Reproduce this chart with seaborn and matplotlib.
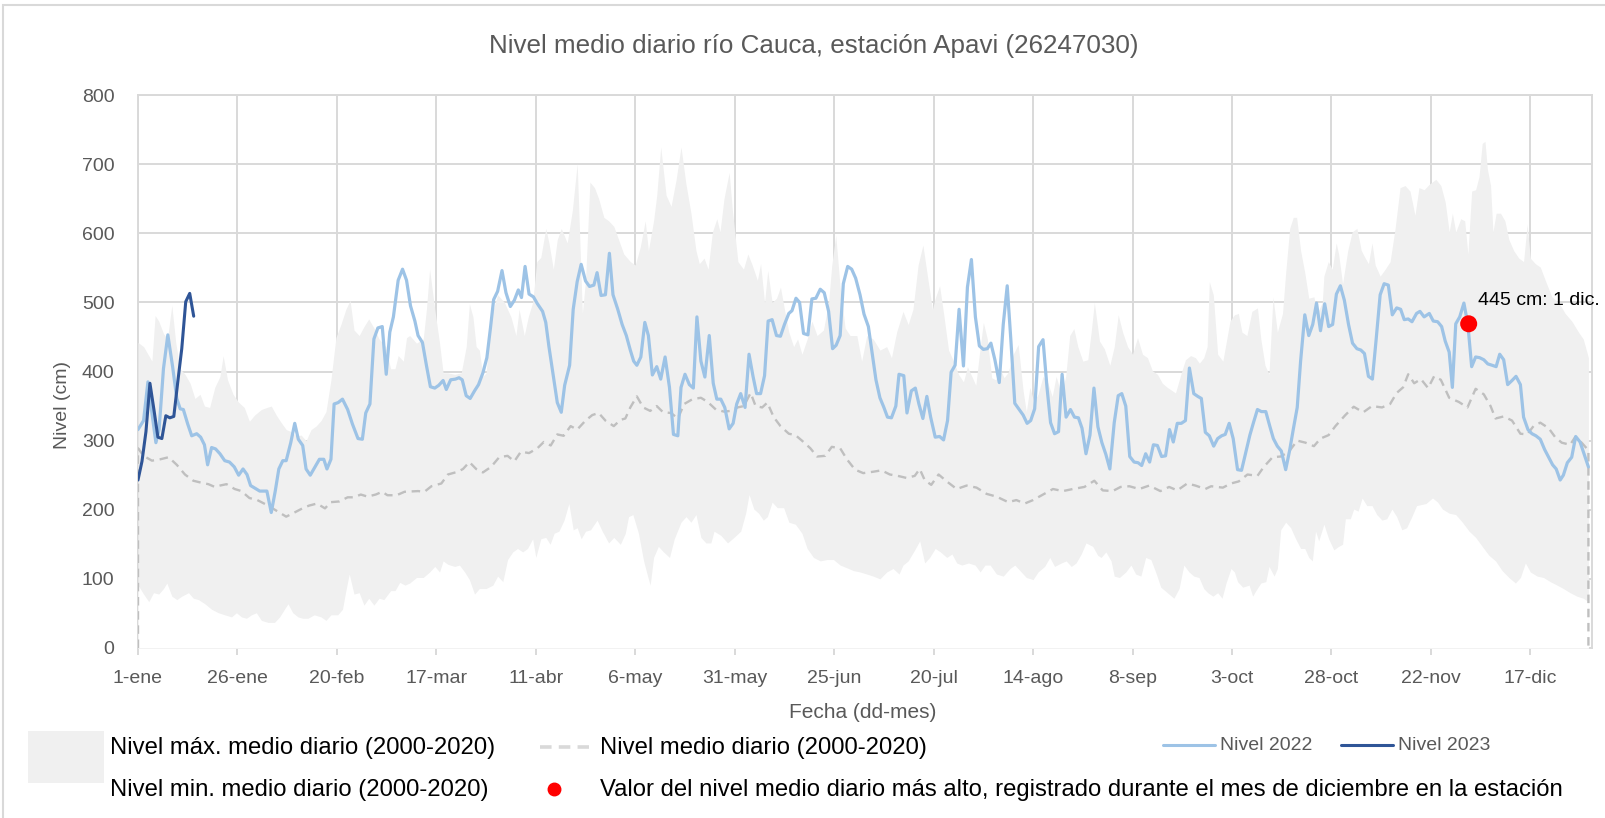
import numpy as np
import pandas as pd
import matplotlib
matplotlib.use("Agg")
import matplotlib.pyplot as plt
from matplotlib.lines import Line2D
from matplotlib.patches import Rectangle
import seaborn as sns

# ---------------- data (day of year, value in cm) ----------------
tick_dias = [0, 25, 50, 75, 100, 125, 150, 175, 200, 225, 250, 275, 300, 325, 350]
tick_labels = ["1-ene", "26-ene", "20-feb", "17-mar", "11-abr", "6-may", "31-may", "25-jun",
               "20-jul", "14-ago", "8-sep", "3-oct", "28-oct", "22-nov", "17-dic"]

nivel_2023 = [(0, 243), (1, 270), (2, 313), (3, 383), (4, 345), (5, 305), (6, 303), (7, 336),
              (8, 333), (9, 335), (10, 385), (11, 433), (12, 501), (13, 513), (14, 480)]

nivel_2022 = [
    (0, 316), (1.4, 329), (2.5, 385), (3.5, 340), (4.5, 297), (5.3, 316), (6.4, 404), (7.5, 453),
    (8.7, 407), (9.75, 361), (10.6, 346), (11.4, 345), (12.5, 324), (13.5, 307), (14.75, 310),
    (15.75, 305), (16.7, 294), (17.5, 265), (18.5, 290), (19.5, 288), (20.6, 281), (21.8, 271),
    (23, 269), (24.2, 262), (25.3, 250), (26.4, 259), (27.4, 251), (28.3, 235), (29.75, 230),
    (30.6, 227), (32.4, 227), (33.5, 196), (34.5, 227), (35.4, 259), (36.4, 271), (37.25, 271),
    (38.4, 297), (39.4, 325), (40.3, 302), (41.4, 293), (42.25, 259), (43.3, 250), (44.5, 262),
    (45.6, 273), (46.7, 273), (47.5, 259), (48.5, 273), (49.3, 353), (50.3, 355), (51.4, 360),
    (52.7, 345), (53.9, 324), (55.3, 303), (56.4, 302), (57.25, 340), (58.3, 353), (59.3, 447),
    (60.3, 463), (61.4, 465), (62.4, 396), (63.3, 457),
    (64.2, 479), (65.4, 532), (66.5, 548), (67.5, 532), (68.5, 495), (69.6, 473), (70.4, 452),
    (71.5, 442), (72.5, 409), (73.5, 378), (74.6, 376), (75.6, 380), (76.7, 387), (77.5, 374),
    (78.6, 388), (79.8, 389), (80.7, 391), (81.5, 388), (82.5, 365), (83.5, 361), (84.6, 372),
    (85.6, 381), (86.7, 398), (87.7, 420), (88.6, 463), (89.4, 504), (90.4, 516), (91.5, 546),
    (92.5, 514), (93.6, 494), (94.6, 503), (95.6, 518), (96.4, 507), (97.3, 552), (98.3, 512),
    (99.4, 508), (100.4, 498), (101.7, 487), (102.5, 471), (103.3, 436), (104.4, 393),
    (105.4, 355), (106.4, 341), (107.25, 380), (108.5, 409), (109.4, 490), (110.4, 530),
    (111.4, 555), (112.5, 531), (113.5, 523), (114.6, 525), (115.4, 543), (116.4, 510),
    (117.5, 511), (118.5, 571), (119.4, 511), (120.6, 490), (121.7, 468), (122.75, 452),
    (123.75, 431), (124.6, 415), (125.4, 409), (126.4, 421), (127.4, 471), (128.3, 452),
    (129.3, 395), (130.4, 407), (131.4, 389),
    (132.5, 421), (133.6, 377), (134.6, 309), (135.7, 307), (136.5, 377), (137.5, 396),
    (138.6, 381), (139.6, 376), (140.5, 479), (141.5, 415), (142.5, 392), (143.6, 452),
    (144.6, 383), (145.5, 360), (146.5, 360), (147.5, 348), (148.6, 317), (149.6, 325),
    (150.5, 353), (151.5, 368), (152.6, 348), (153.6, 425), (154.6, 393), (155.5, 368),
    (156.5, 368), (157.5, 394), (158.4, 473), (159.4, 475), (160.5, 452), (161.5, 451),
    (162.5, 468), (163.6, 484), (164.4, 488), (165.4, 506), (166.3, 500), (167.3, 455),
    (168.4, 453), (169.4, 505), (170.4, 506), (171.5, 519), (172.5, 514), (173.6, 487),
    (174.6, 433), (175.5, 438), (176.5, 452), (177.3, 527), (178.4, 552), (179.4, 548),
    (180.4, 535), (181.5, 511), (182.5, 483), (183.6, 465), (184.6, 425), (185.5, 388),
    (186.5, 362), (187.5, 348), (188.4, 334), (189.4, 333), (190.5, 350), (191.3, 396),
    (192.5, 394), (193.3, 340), (194.4, 372), (195.4, 376), (196.3, 353), (197.3, 332),
    (198.3, 364), (199.25, 334),
    (200.4, 305), (201.5, 306), (202.5, 301), (203.5, 329), (204.4, 399), (205.4, 409),
    (206.4, 490), (207.5, 408), (208.5, 522), (209.5, 562), (210.5, 479), (211.5, 437),
    (212.5, 432), (213.5, 433), (214.4, 441), (215.4, 417), (216.5, 384), (217.5, 468),
    (218.5, 524), (219.4, 447), (220.4, 354), (221.5, 345), (222.5, 337), (223.5, 325),
    (224.4, 329), (225.4, 346), (226.4, 436), (227.5, 446), (228.5, 377), (229.4, 326),
    (230.4, 310), (231.4, 313), (232.3, 396), (233.3, 334), (234.4, 345), (235.4, 334),
    (236.4, 333), (237.3, 318), (238.3, 281), (239.3, 308), (240.3, 376), (241.3, 320),
    (242.3, 297), (243.3, 280), (244.3, 259), (245.4, 326), (246.4, 365), (247.3, 368),
    (248.3, 350), (249.3, 277), (250.4, 269), (251.4, 268), (252.3, 264), (253.3, 281),
    (254.3, 269), (255.25, 294), (256.25, 293), (257.3, 277), (258.3, 278), (259.3, 316),
    (260.25, 298), (261.25, 325), (262.25, 325), (263.3, 329), (264.3, 405), (265.4, 368),
    (266.4, 364), (267.3, 361), (268.3, 312),
    (269.3, 307), (270.4, 292), (271.4, 303), (272.4, 307), (273.3, 309), (274.3, 325),
    (275.3, 303), (276.4, 258), (277.4, 257), (278.5, 284), (279.5, 308), (280.4, 326),
    (281.4, 345), (282.4, 342), (283.5, 342), (284.5, 321), (285.4, 303), (286.4, 292),
    (287.4, 285), (288.5, 258), (289.5, 286), (290.4, 316), (291.4, 348), (292.25, 415),
    (293.3, 482), (294.3, 452), (295.3, 468), (296.25, 499), (297.25, 459), (298.3, 498),
    (299.3, 465), (300.3, 468), (301.25, 512), (302.25, 524), (303.25, 503), (304.3, 468),
    (305.3, 441), (306.4, 433), (307.4, 431), (308.3, 426), (309.3, 393), (310.3, 389),
    (311.25, 447), (312.25, 511), (313.25, 527), (314.3, 525), (315.3, 482), (316.4, 492),
    (317.4, 490), (318.3, 475), (319.3, 476), (320.25, 472), (321.4, 484), (322.25, 487),
    (323.3, 479), (324.6, 484), (325.6, 473), (326.7, 472), (327.7, 465), (328.6, 444),
    (329.6, 428), (330.4, 377), (331.25, 469), (332.25, 479), (333.3, 499),
    (334.3, 468), (335.25, 407), (336.25, 421), (337.25, 420), (338.3, 417), (339.3, 411),
    (340.4, 409), (341.4, 407), (342.3, 425), (343.3, 417), (344.3, 381), (345.4, 387),
    (346.4, 393), (347.5, 381), (348.3, 334), (349.4, 316), (350.4, 310), (351.4, 307),
    (352.5, 302), (353.6, 287), (354.6, 276), (355.6, 265), (356.5, 259), (357.5, 243),
    (358.3, 250), (359.3, 268), (360.4, 276), (361.4, 306), (362.5, 298), (363.5, 281),
    (364.6, 262)]

nivel_medio = [
    (0, 0), (0, 289), (1.4, 278), (3.5, 271), (5.6, 273), (7.7, 276), (9.75, 265), (11.8, 251),
    (13.9, 242), (16, 239), (17.7, 237), (19.3, 233), (20.6, 235), (22.25, 237), (24.3, 230),
    (26, 227), (28, 217), (30, 214), (32.7, 206), (35, 198), (37.25, 190), (39, 195), (41, 201),
    (43, 206), (45, 209), (47, 202), (48.5, 211), (50.6, 212), (52.7, 218), (54.3, 218),
    (56, 222), (57.7, 219), (59.75, 222), (61.4, 226), (62.7, 221), (65, 221), (67, 226),
    (70.4, 227), (72, 226), (73.75, 234), (76.25, 238), (77.9, 251), (80.4, 255), (81.7, 259),
    (83.3, 269), (85, 259), (86.7, 254), (88.75, 262), (90.8, 276), (92.9, 278), (94.6, 270),
    (96.25, 284), (98.3, 282), (100.4, 289), (102, 298), (103.75, 293), (105.4, 309),
    (107, 307), (108.75, 321), (110.4, 316), (112.5, 329), (114.2, 337), (115.8, 340),
    (117.5, 329), (119.6, 321), (121.25, 330), (122.5, 332), (123.75, 348), (125.4, 364),
    (127, 348), (128.75, 343), (130.4, 350), (132, 341), (134, 340), (135.7, 332),
    (137.3, 353), (139.4, 360), (141.5, 362), (143.2, 356), (145.25, 345), (147.3, 342),
    (149, 343), (150.7, 348), (152.3, 350), (154, 369), (155.25, 350), (156.9, 348),
    (158.2, 355), (159.8, 334), (161.5, 321), (163.6, 310), (165.25, 308), (166.9, 300),
    (169, 289), (170.7, 277), (172.75, 278), (174.4, 291), (176.5, 289), (178.2, 273),
    (180.25, 258), (182.3, 253), (184.8, 255), (186.9, 257), (189, 251), (191, 249),
    (193.2, 246), (195.25, 249), (196.5, 259), (197.75, 243), (199.4, 236), (201.25, 251),
    (203.3, 241), (205.8, 230), (208.3, 235), (210.8, 232), (213.3, 223), (215.8, 219),
    (218.75, 211), (220.8, 214), (222.9, 209), (225, 214), (227.5, 222), (230, 230),
    (232.5, 227), (235, 230), (237.9, 233), (240.4, 242), (242.5, 228), (245, 227), (247, 233),
    (249.2, 234), (251.7, 230), (254.2, 235), (257, 227), (259.2, 233), (261.25, 228),
    (263.75, 238), (265.8, 235), (268.3, 230), (269.75, 234), (272.7, 232), (274.75, 238),
    (276.7, 241), (278.9, 251), (281.4, 249), (283, 262), (285.2, 276), (287.25, 277),
    (289.3, 284), (291.4, 300), (293.5, 297), (295.6, 292), (297.25, 303), (299.3, 308),
    (301, 321), (303.5, 337), (305.6, 349), (308, 341), (310.2, 350), (312.7, 348),
    (314.75, 353), (316.4, 369), (318, 377), (319.3, 396), (320.8, 383), (322.5, 389),
    (324.3, 376), (325.8, 393), (327.5, 388), (329.6, 362), (332, 356), (334.2, 348),
    (336.25, 375), (338.3, 367), (340, 350), (341.25, 332), (343.3, 335), (345.4, 329),
    (347.5, 310), (349.2, 309), (350.8, 321), (352.5, 326), (354.6, 318), (356.25, 305),
    (357.9, 297), (360, 294), (361.25, 305), (362.9, 297), (364.6, 286), (364.6, 0)]

nivel_max = [
    (0, 442), (1.4, 436), (2.7, 423), (3.5, 415), (4.3, 481), (5.2, 473), (6.4, 455), (7.4, 447),
    (8.5, 496), (9.5, 441), (10.6, 404), (11.8, 396), (13.1, 383), (14.3, 361), (15.6, 367),
    (16.7, 350), (18, 348), (19.3, 377), (20.6, 393), (21.4, 423), (22.5, 388), (23.9, 367),
    (25.2, 356), (26.7, 348), (28, 328), (29.3, 337), (31, 345), (32.4, 348), (33.5, 350),
    (34.75, 337), (36, 326), (37.25, 316), (38.5, 313), (39.75, 307), (41, 308), (42.25, 300),
    (43.5, 316), (44.75, 321), (46, 329), (47.25, 342), (48.5, 388), (49.75, 449), (51, 468),
    (52.25, 490), (53.3, 503), (54.3, 460), (55.6, 452), (56.8, 465), (58, 476), (59.3, 463),
    (60.6, 447), (62.25, 436), (63.5, 404),
    (64.6, 404), (65.4, 423), (66.7, 415), (67.5, 449), (68.3, 452), (70, 441), (71.7, 447),
    (72.5, 490), (73.3, 548), (74.6, 490), (75.8, 441), (76.7, 398), (77.9, 398), (79.6, 396),
    (81.25, 398), (82.5, 436), (83.3, 498), (84.2, 479), (85, 436), (85.8, 431), (86.7, 393),
    (87.5, 398), (88.75, 479), (90.4, 511), (92.1, 500), (93.75, 479), (95, 452), (95.8, 490),
    (97.1, 452), (98.1, 479), (99.2, 500), (100.25, 559), (101.25, 565), (102.5, 607),
    (103.3, 586), (104.4, 548), (105.4, 591), (106.4, 607), (107.9, 586), (109.2, 634),
    (110.4, 701), (111.7, 484), (112.5, 532), (113.6, 674), (114.75, 666), (115.8, 650),
    (117.1, 623), (118.3, 618), (119.6, 610), (120.8, 591), (122.1, 570), (123.75, 559),
    (125, 554), (126.25, 580), (127.5, 618), (128.3, 575), (129.6, 618), (130.4, 655),
    (131.4, 725),
    (132.75, 655), (134, 639), (135.25, 677), (136.5, 725), (137.75, 671), (139, 629),
    (140.25, 575), (141.1, 556), (142.3, 564), (143.3, 548), (144.4, 602), (145.5, 621),
    (146.3, 602), (147.3, 650), (148.6, 688), (149.4, 634), (150.8, 559), (152.2, 548),
    (153.3, 570), (154.4, 554), (155.7, 532), (156.5, 556), (157.5, 500), (158.3, 546),
    (159.4, 500), (160.5, 506), (161.5, 522), (162.5, 490), (163.6, 457), (164.8, 436),
    (165.8, 447), (166.9, 425), (168.2, 447), (169.4, 473), (170.7, 452), (172.3, 460),
    (173.6, 500), (174.4, 554), (175.4, 597), (176.5, 522), (177.75, 463), (179, 452),
    (180.7, 452), (181.9, 415), (183.2, 452), (184.8, 447), (186.5, 431), (188.2, 436),
    (189.4, 420), (190.7, 457), (192.3, 487), (193.6, 468), (194.8, 490), (196.1, 554),
    (197.3, 583), (198.6, 532), (199.7, 490),
    (200.4, 506), (201.5, 524), (202.5, 484), (203.75, 431), (205, 415), (206.25, 396),
    (207.5, 385), (208.5, 407), (209.6, 393), (210.6, 380), (211.5, 425), (212.5, 471),
    (213.5, 447), (214.6, 391), (215.6, 388), (216.7, 404), (217.7, 391), (218.75, 399),
    (220, 425), (221.25, 439), (222.5, 372), (223.3, 342), (224.2, 377), (225.2, 356),
    (226.25, 367), (227.5, 393), (228.75, 383), (229.8, 364), (230.8, 393), (232.1, 367),
    (233.2, 393), (234.2, 452), (235.25, 462), (236.25, 436), (237.5, 415), (238.75, 417),
    (239.6, 457), (240.4, 500), (241.7, 444), (242.9, 433), (244.3, 409), (245.4, 436),
    (246.4, 482), (247.5, 457), (248.75, 436), (250, 425), (251.25, 449), (252.5, 425),
    (253.75, 420), (255, 401), (256.25, 396), (257.5, 383), (258.75, 377), (260.8, 369),
    (262.3, 399), (263.3, 417), (264.6, 423), (265.8, 420), (266.8, 412), (267.9, 420),
    (268.75, 436),
    (269.3, 530), (270.3, 511), (271.4, 425), (272.7, 415), (273.7, 447), (274.5, 473),
    (275.6, 482), (276.6, 484), (277.5, 457), (278.75, 452), (280, 487), (281.4, 492),
    (282.25, 447), (283.3, 409), (284.3, 396), (285.3, 508), (286.4, 457), (287.7, 484),
    (288.5, 543), (289.5, 607), (290.4, 623), (291.25, 623), (292.25, 575), (293.3, 543),
    (294.3, 506), (295.6, 508), (296.4, 484), (297.7, 500), (298.1, 538), (299.2, 559),
    (300.2, 548), (301.2, 586), (301.8, 570), (302.8, 527), (304.1, 575), (305.2, 602),
    (306.4, 607), (307.5, 575), (308.5, 564), (309.3, 556), (310.2, 586), (311, 554),
    (312.25, 538), (313.5, 548), (314.75, 559), (316, 607), (317.25, 666), (318.5, 669),
    (319.75, 661), (321, 626),
    (322, 666), (323.3, 663), (324.6, 671), (326.25, 678), (327.5, 669), (328.6, 645),
    (329.6, 602), (330.4, 629), (331.25, 602), (332.5, 621), (333.5, 618), (334.3, 570),
    (335.25, 661), (336.25, 663), (337.1, 682), (337.9, 730), (338.6, 733), (339.2, 693),
    (340, 669), (340.6, 602), (341.4, 629), (342.5, 629), (343.6, 618), (344.6, 591),
    (345.8, 575), (347.1, 564), (348.3, 559), (349.2, 613), (350, 564), (351.25, 556),
    (352.5, 551), (353.75, 532), (355.4, 508), (357.1, 500), (358.75, 484), (360.4, 473),
    (362.1, 457), (363.3, 447), (364.6, 420)]

nivel_min = [
    (0, 91), (1.4, 78), (2.7, 67), (3.9, 80), (5.2, 78), (6.4, 86), (7.25, 94), (8.5, 75),
    (9.75, 70), (11, 75), (12.7, 80), (13.9, 72), (15.2, 70), (16.8, 64), (18.5, 56),
    (20.2, 51), (21.8, 48), (23.5, 45), (24.75, 51), (26, 45), (27.25, 43), (28.5, 48),
    (29.75, 51), (31, 40), (32.7, 37), (34.3, 37), (35.6, 45), (36.8, 56), (37.7, 64),
    (38.9, 51), (40.2, 45), (41.4, 43), (42.7, 43), (44.3, 48), (46, 45), (47.25, 40),
    (48.5, 48), (50.2, 48), (51.4, 56), (52.25, 83), (53.1, 107), (54.3, 78), (55.6, 80),
    (56.8, 62), (58, 72), (59.3, 62), (60.6, 72), (61.8, 70), (63.5, 83),
    (64.6, 83), (65.8, 95), (67.1, 91), (68.3, 94), (70, 102), (71.7, 102), (73.3, 110),
    (74.6, 118), (75.8, 110), (76.7, 126), (77.9, 121), (79.6, 118), (80.8, 120), (82.1, 110),
    (83.3, 99), (84.6, 78), (85.8, 86), (87.5, 86), (89.2, 91), (90.4, 104), (91.7, 96),
    (92.9, 128), (94.2, 139), (95.4, 144), (96.7, 139), (97.9, 144), (99.2, 158), (100, 131),
    (101.25, 158), (102.5, 160), (103.6, 150), (104.6, 166), (105.8, 169), (107.1, 185),
    (108.3, 209), (109.4, 171), (110.4, 174), (111.4, 158), (112.5, 169), (113.75, 171),
    (115.4, 185), (116.7, 169), (118.3, 152), (119.6, 160), (121.25, 150), (122.5, 166),
    (123.3, 190), (124.4, 193), (125.8, 166), (127.1, 126), (128.1, 104), (128.75, 91),
    (129.6, 131), (130.8, 147), (132.1, 139),
    (133.6, 131), (134.8, 158), (136.5, 182), (137.75, 190), (139, 182), (140.25, 193),
    (141.5, 160), (142.75, 152), (144, 152), (144.8, 169), (146.5, 163), (148.2, 152),
    (149.8, 160), (151.5, 169), (152.75, 195), (153.6, 222), (154.8, 201), (156, 195),
    (157.2, 185), (158.2, 190), (159.4, 211), (160.7, 203), (162.3, 203), (163.6, 182),
    (165.25, 179), (166.9, 166), (168.2, 144), (169.8, 131), (171.5, 126), (173.2, 128),
    (174.8, 128), (176.5, 120), (178.2, 116), (179.8, 112), (181.5, 110), (183.2, 107),
    (184.8, 104), (186.5, 100), (188.2, 110), (189.8, 115), (191.3, 107), (192.3, 120),
    (193.6, 126), (195.25, 142), (196.5, 155), (197.75, 123), (199, 131),
    (200.4, 144), (201.7, 139), (203.3, 131), (204.6, 136), (205.8, 123), (207.1, 120),
    (208.75, 123), (210.4, 120), (211.7, 110), (212.9, 120), (214.2, 120), (215.8, 107),
    (217.5, 104), (219.2, 115), (220.4, 120), (221.7, 112), (223.3, 102), (225, 99),
    (226.25, 110), (227.9, 118), (229.2, 131), (230.4, 118), (232.1, 123), (233.3, 126),
    (234.6, 118), (235.8, 123), (237.1, 136), (238.3, 152), (240, 147), (241.25, 134),
    (242.1, 131), (243.3, 139), (244.6, 126), (245.4, 104), (246.7, 102), (248.3, 110),
    (249.6, 120), (250.8, 107), (252.1, 104), (253.3, 131), (254.6, 128), (255.8, 110),
    (257.1, 88), (258.75, 80), (260.4, 72), (261.7, 86), (262.9, 120), (264.2, 110),
    (265.4, 104), (266.7, 102), (267.9, 86),
    (268.9, 80), (270.2, 75), (271.4, 80), (272.5, 72), (273.5, 94), (274.75, 115),
    (275.6, 110), (276.4, 96), (277.7, 88), (279.3, 91), (280.2, 75), (281, 83), (282.25, 94),
    (283.5, 96), (284.3, 118), (285.6, 104), (286.4, 115), (287.25, 171), (288.5, 182),
    (289.75, 174), (291, 158), (292.25, 144), (293.3, 144), (294.3, 131), (295.2, 126),
    (296, 169), (296.8, 155), (298.1, 179), (299.3, 158), (300.6, 142), (301.8, 147),
    (302.8, 150), (303.5, 187), (304.75, 187), (305.6, 201), (306.7, 198), (307.7, 217),
    (308.9, 206), (310.2, 206), (311.4, 193), (312.7, 185), (313.9, 187), (315.2, 201),
    (316.4, 190), (317.7, 171), (318.9, 174), (320.2, 190), (321.4, 206),
    (323.75, 209), (325.4, 217), (326.7, 211), (327.9, 201), (329.6, 195), (331.25, 193),
    (332.9, 182), (334.6, 169), (336.25, 160), (337.9, 147), (339.6, 134), (341.25, 126),
    (342.9, 112), (344.6, 102), (346.25, 94), (347.5, 102), (348.75, 123), (350, 110),
    (351.7, 104), (353.3, 102), (355, 96), (356.7, 91), (358.3, 86), (360, 80), (361.7, 75),
    (363.3, 72), (364.6, 67)]

maximo_diciembre = (334.5, 469)
etiqueta_maximo = "445 cm: 1 dic."

# ---------------- styling ----------------
W, H = 1606, 818
sns.set_theme(style="white")
plt.rcParams['font.family'] = ['Liberation Sans', 'DejaVu Sans']

GRID = "#D9D9D9"
TXT = "#595959"
BAND = "#F0F0F0"
C22 = "#9DC3E6"
C23 = "#2F5597"
CMEAN = "#BFBFBF"


def df(pairs):
    return pd.DataFrame(pairs, columns=["dia", "nivel"])


fig = plt.figure(figsize=(W / 100, H / 100), dpi=100)
ax = fig.add_axes([138 / W, 1 - 648 / H, (1592 - 138) / W, (648 - 95) / H])

ax.set_xlim(0, 365.5)
ax.set_ylim(0, 800)
ax.set_axisbelow(True)
ax.grid(True, color=GRID, lw=1.4, zorder=0)
for s in ax.spines.values():
    s.set_color(GRID)
    s.set_linewidth(1.4)
    s.set_zorder(0.5)

# band: max area (gray) then min area (white) on top
dmax = df(nivel_max)
dmin = df(nivel_min)
ax.fill_between(dmax["dia"], 0, dmax["nivel"], color=BAND, lw=0, zorder=1)
ax.fill_between(dmin["dia"], 0, dmin["nivel"], color="white", lw=0, zorder=1.1)

dmean = df(nivel_medio)
sns.lineplot(data=dmean, x="dia", y="nivel", ax=ax, color=CMEAN, lw=1.7,
             estimator=None, sort=False, zorder=2, legend=False)
ax.lines[-1].set_dashes((3.6, 2.4))

d22 = df(nivel_2022)
sns.lineplot(data=d22, x="dia", y="nivel", ax=ax, color=C22, lw=2.3,
             estimator=None, sort=False, zorder=3, legend=False)
d23 = df(nivel_2023)
sns.lineplot(data=d23, x="dia", y="nivel", ax=ax, color=C23, lw=2.2,
             estimator=None, sort=False, zorder=4, legend=False)

sns.scatterplot(x=[maximo_diciembre[0]], y=[maximo_diciembre[1]], ax=ax, color="#FF0000",
                s=150, edgecolor="none", zorder=5, legend=False)
ax.text(336.8, 502, etiqueta_maximo, fontsize=14, color="black", ha="left", va="center", zorder=6)

ax.set_xticks(tick_dias)
ax.set_xticklabels(tick_labels)
ax.set_yticks(range(0, 801, 100))
ax.tick_params(axis="x", colors=GRID, labelcolor=TXT, labelsize=14, length=5, width=1.4,
               direction="out", pad=11, bottom=True)
ax.tick_params(axis="y", labelcolor=TXT, labelsize=14, length=0, pad=17, left=False)

ax.set_xlabel("Fecha (dd-mes)", fontsize=15, color=TXT)
ax.set_ylabel("Nivel (cm)", fontsize=14, color=TXT)
ax.xaxis.set_label_coords(0.4986, -0.100)
ax.yaxis.set_label_coords(-0.046, 0.44)


def fp(x, y):
    return (x / W, 1 - y / H)


fig.text(*fp(814, 46), "Nivel medio diario río Cauca, estación Apavi (26247030)",
         fontsize=18.7, color=TXT, ha="center", va="center")

# ---------------- legend (manual) ----------------
fig.add_artist(Rectangle(fp(28, 783), 76 / W, 52 / H, transform=fig.transFigure,
                         facecolor=BAND, edgecolor="none"))
fig.text(*fp(110, 748), "Nivel máx. medio diario (2000-2020)", fontsize=17.2, color="black",
         ha="left", va="center")
fig.text(*fp(110, 790), "Nivel min. medio diario (2000-2020)", fontsize=17.2, color="black",
         ha="left", va="center")

x0, y0 = fp(540, 747)
x1, _ = fp(589, 747)
fig.add_artist(Line2D([x0, x1], [y0, y0], transform=fig.transFigure, color=GRID, lw=2.6,
                      dashes=(3.2, 2.0)))
fig.text(*fp(600, 748), "Nivel medio diario (2000-2020)", fontsize=17.2, color="black",
         ha="left", va="center")
xd, yd = fp(554, 789)
fig.add_artist(Line2D([xd], [yd], transform=fig.transFigure, marker="o", color="#FF0000",
                      markersize=9, lw=0))
fig.text(*fp(600, 790), "Valor del nivel medio diario más alto, registrado durante el mes de diciembre en la estación",
         fontsize=17.2, color="black", ha="left", va="center")

for (a, b, c, lab) in [(1163, 1215, C22, "Nivel 2022"), (1341, 1393, C23, "Nivel 2023")]:
    xa, ya = fp(a, 745)
    xb, _ = fp(b, 745)
    fig.add_artist(Line2D([xa, xb], [ya, ya], transform=fig.transFigure, color=c, lw=2.2))
    fig.text(*fp(b + 5, 745), lab, fontsize=14, color=TXT, ha="left", va="center")

# outer chart border
fig.add_artist(Rectangle(fp(3, 822), (1610 - 3) / W, (822 - 5) / H, transform=fig.transFigure,
                         fill=False, edgecolor=GRID, lw=1.5))

fig.savefig("out.png", dpi=100)
